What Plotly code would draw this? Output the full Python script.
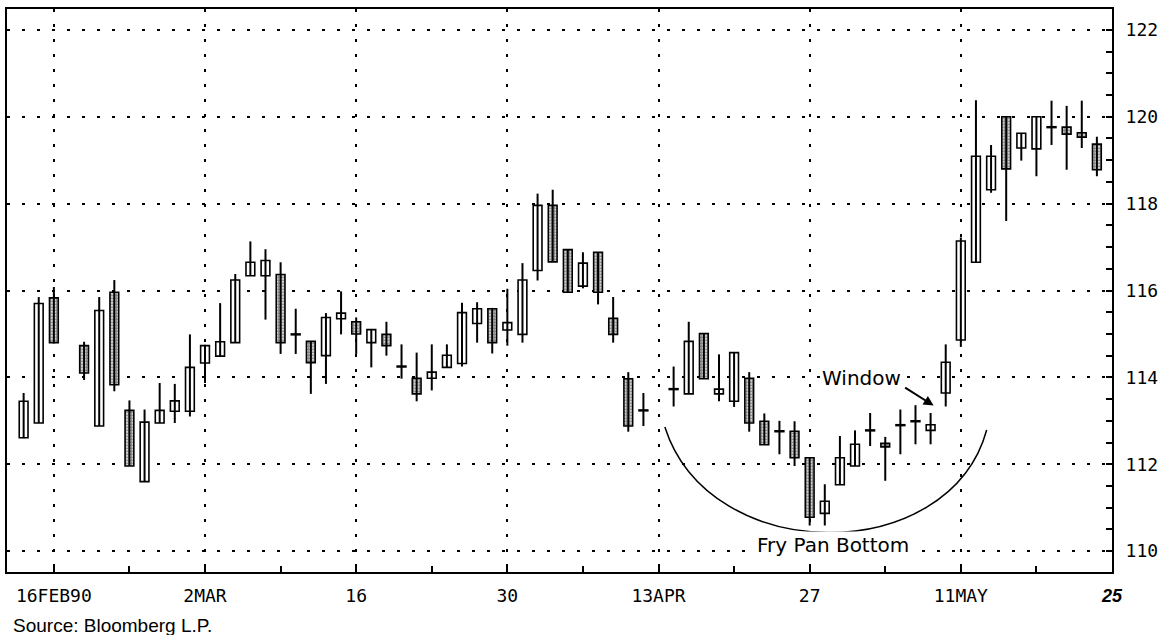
import numpy as np
import plotly.graph_objects as go

# ---- data (T-bond futures, daily candles) ----
dates = ["1990-02-14", "1990-02-15", "1990-02-16", "1990-02-20", "1990-02-21", "1990-02-22",
         "1990-02-23", "1990-02-26", "1990-02-27", "1990-02-28", "1990-03-01", "1990-03-02",
         "1990-03-05", "1990-03-06", "1990-03-07", "1990-03-08", "1990-03-09", "1990-03-12",
         "1990-03-13", "1990-03-14", "1990-03-15", "1990-03-16", "1990-03-19", "1990-03-20",
         "1990-03-21", "1990-03-22", "1990-03-23", "1990-03-26", "1990-03-27", "1990-03-28",
         "1990-03-29", "1990-03-30", "1990-04-02", "1990-04-03", "1990-04-04", "1990-04-05",
         "1990-04-06", "1990-04-09", "1990-04-10", "1990-04-11", "1990-04-12", "1990-04-16",
         "1990-04-17", "1990-04-18", "1990-04-19", "1990-04-20", "1990-04-23", "1990-04-24",
         "1990-04-25", "1990-04-26", "1990-04-27", "1990-04-30", "1990-05-01", "1990-05-02",
         "1990-05-03", "1990-05-04", "1990-05-07", "1990-05-08", "1990-05-09", "1990-05-10",
         "1990-05-11", "1990-05-14", "1990-05-15", "1990-05-16", "1990-05-17", "1990-05-18",
         "1990-05-21", "1990-05-22", "1990-05-23", "1990-05-24"]

open_ = [112.61, 112.95, 115.83, 114.73, 112.88, 115.96, 113.24, 111.60, 112.95, 113.22, 113.22, 114.33,
         114.49, 114.80, 116.34, 116.34, 116.37, 114.98, 114.83, 114.50, 115.35, 115.28, 114.80, 114.99,
         114.24, 113.98, 113.98, 114.23, 114.32, 115.24, 115.58, 115.09, 114.99, 116.46, 117.96, 116.94,
         116.10, 116.88, 115.36, 113.97, 113.23, 113.72, 113.62, 115.01, 113.62, 113.45, 113.98, 112.99,
         112.75, 112.76, 112.15, 110.87, 111.53, 111.96, 112.77, 112.48, 112.89, 112.98, 112.78, 113.64,
         114.86, 116.65, 118.32, 120.00, 119.28, 119.26, 119.75, 119.76, 119.63, 119.37]
high = [113.64, 115.85, 116.08, 114.82, 115.85, 116.24, 113.47, 113.26, 113.87, 113.85, 114.99, 114.75,
        115.71, 116.38, 117.13, 116.95, 116.65, 115.58, 114.83, 115.48, 115.98, 115.38, 115.10, 115.28,
        114.76, 114.57, 114.76, 114.76, 115.72, 115.73, 115.60, 116.04, 116.63, 118.23, 118.32, 116.95,
        116.88, 116.88, 115.85, 114.12, 113.64, 114.25, 115.28, 115.01, 114.53, 114.57, 114.12, 113.17,
        113.00, 112.99, 112.15, 111.54, 112.65, 112.78, 113.18, 112.63, 113.26, 113.36, 113.18, 114.76,
        117.22, 120.38, 119.35, 120.00, 119.62, 120.00, 120.37, 120.25, 120.37, 119.54]
low = [112.60, 112.95, 114.78, 113.94, 112.88, 113.68, 111.96, 111.60, 112.95, 112.95, 113.10, 113.87,
       114.49, 114.80, 116.34, 115.33, 114.54, 114.54, 113.62, 113.85, 114.99, 114.54, 114.23, 114.50,
       113.97, 113.45, 113.70, 114.23, 114.25, 114.80, 114.55, 114.73, 114.80, 116.23, 116.66, 115.95,
       116.05, 115.68, 114.80, 112.75, 112.88, 113.33, 113.62, 113.97, 113.45, 113.32, 112.75, 112.45,
       112.23, 111.96, 110.59, 110.59, 111.53, 111.96, 112.42, 111.62, 112.23, 112.46, 112.46, 113.33,
       114.70, 116.65, 118.25, 117.60, 118.99, 118.63, 119.35, 118.78, 119.28, 118.63]
close = [113.45, 115.70, 114.80, 114.10, 115.54, 113.83, 111.96, 112.97, 113.24, 113.46, 114.23, 114.73,
         114.82, 116.24, 116.65, 116.69, 114.80, 115.00, 114.34, 115.38, 115.48, 115.00, 115.10, 114.73,
         114.26, 113.62, 114.12, 114.51, 115.49, 115.58, 114.80, 115.26, 116.24, 117.96, 116.66, 115.96,
         116.63, 115.96, 114.99, 112.88, 113.25, 113.74, 114.83, 113.97, 113.73, 114.57, 112.95, 112.45,
         112.77, 112.15, 110.78, 111.15, 112.15, 112.46, 112.79, 112.40, 112.91, 113.00, 112.91, 114.35,
         117.14, 119.09, 119.09, 118.80, 119.62, 120.00, 119.77, 119.60, 119.53, 118.78]

label_dates = ["1990-02-16", "1990-03-02", "1990-03-16", "1990-03-30",
               "1990-04-13", "1990-04-27", "1990-05-11", "1990-05-25"]
label_text = ["16FEB90", "2MAR", "16", "30", "13APR", "27", "11MAY",
              "<span style='font-family:Liberation Sans, Arial;font-weight:bold;font-style:italic'>25</span>"]
y_ticks = [110, 112, 114, 116, 118, 120, 122]

# ---- positions on a trading-day axis (holidays leave gaps) ----
ref = "1990-02-16"
xpos = [int(np.busday_count(ref, d)) if d >= ref else -int(np.busday_count(d, ref)) for d in dates]
tickpos = [int(np.busday_count(ref, d)) for d in label_dates]

up = [i for i in range(len(dates)) if close[i] >= open_[i]]
dn = [i for i in range(len(dates)) if close[i] < open_[i]]

wx, wy = [], []
for i in range(len(dates)):
    wx += [xpos[i], xpos[i], None]
    wy += [low[i], high[i], None]

fig = go.Figure()
fig.add_trace(go.Scatter(x=wx, y=wy, mode="lines", line=dict(color="black", width=2),
                         hoverinfo="skip"))
fig.add_trace(go.Bar(x=[xpos[i] for i in up],
                     y=[close[i] - open_[i] for i in up],
                     base=[open_[i] for i in up], width=0.58,
                     marker=dict(color="white", line=dict(color="black", width=1.6))))
fig.add_trace(go.Bar(x=[xpos[i] for i in dn],
                     y=[open_[i] - close[i] for i in dn],
                     base=[close[i] for i in dn], width=0.58,
                     marker=dict(color="white", line=dict(color="black", width=1.6),
                                 pattern=dict(shape=".", fgcolor="#111111", bgcolor="#ffffff",
                                              size=3, solidity=0.7, fillmode="overlay"))))

mono = "DejaVu Sans Mono"
fig.update_layout(
    width=1164, height=635,
    margin=dict(l=5, r=52, t=9, b=63),
    paper_bgcolor="white", plot_bgcolor="white",
    showlegend=False, barmode="overlay",
    xaxis=dict(range=[-3.1, 70], tickmode="array", tickvals=tickpos, ticktext=label_text,
               ticks="inside", ticklen=8, tickwidth=2, tickcolor="black",
               showline=True, linewidth=2, linecolor="black", mirror=True,
               showgrid=True, gridcolor="black", gridwidth=2, griddash="3px,12px",
               zeroline=False, tickfont=dict(family=mono, size=18, color="black"),
               ticklabelstandoff=6,
               minor=dict(tickmode="array", tickvals=list(range(-5, 71, 5)), ticks="inside",
                          ticklen=6, tickwidth=2, tickcolor="black", showgrid=False)),
    yaxis=dict(range=[109.52, 122.48], side="right", tickmode="array", tickvals=y_ticks,
               ticks="inside", ticklen=6, tickwidth=2, tickcolor="black",
               showline=True, linewidth=2, linecolor="black", mirror=True,
               showgrid=True, gridcolor="black", gridwidth=2, griddash="3px,12px",
               zeroline=False, tickfont=dict(family=mono, size=18, color="black"),
               ticklabelstandoff=8,
               minor=dict(dtick=0.5, tick0=110, ticks="inside", ticklen=6, tickwidth=2,
                          tickcolor="black", showgrid=False)),
    shapes=[dict(type="path", xref="x", yref="y",
                 path="M 40.42,112.86 C 43.38,109.63 59.21,109.63 61.71,112.79",
                 line=dict(color="black", width=1.5))],
    annotations=[
        dict(x=53.4, y=113.99, xref="x", yref="y", text="Window", showarrow=False,
             font=dict(family="DejaVu Sans", size=20, color="black"), bgcolor="white",
             xanchor="center", yanchor="middle"),
        dict(x=58.2, y=113.35, xref="x", yref="y", text="", showarrow=True,
             ax=-30, ay=-19, arrowhead=2, arrowsize=1, arrowwidth=2, arrowcolor="black"),
        dict(x=51.55, y=110.14, xref="x", yref="y", text="Fry Pan Bottom", showarrow=False,
             font=dict(family="DejaVu Sans", size=20, color="black"), bgcolor="white",
             xanchor="center", yanchor="middle"),
        dict(x=0.004, y=-0.095, xref="paper", yref="paper", text="Source: Bloomberg L.P.",
             showarrow=False, xanchor="left", yanchor="middle",
             font=dict(family="Liberation Sans, Arial", size=19, color="black")),
    ],
)

fig.write_html("out.html", config={"displayModeBar": False},
               post_script="document.body.style.margin='0';")
